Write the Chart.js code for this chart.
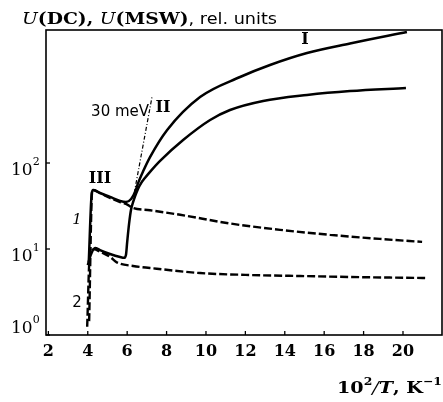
<!DOCTYPE html>
<html>
<head>
<meta charset="utf-8">
<script src="https://cdn.jsdelivr.net/npm/chart.js@4.4.1/dist/chart.umd.min.js"></script>
<style>
  html, body { margin: 0; padding: 0; background: #fff; }
</style>
</head>
<body>
<canvas id="chart" width="443" height="402"></canvas>
<script>
// axis ticks
const xTicks = [2, 4, 6, 8, 10, 12, 14, 16, 18, 20];
const yTicks = [1, 10, 100];
const yTickExp = ['0', '1', '2'];

// curve I (solid, upper branch)
const curveIx = [4.05, 4.2, 4.27, 4.62, 5.13, 5.64, 5.94, 6.2, 6.4, 6.55, 6.81, 7.16, 8.03, 9.7, 11.73, 13.25, 15.13, 17.31, 20.2];
const curveIy = [7, 44, 48.5, 44.8, 40.3, 36.2, 35.2, 38.1, 46, 58, 80, 117, 242, 585, 1000, 1380, 1901, 2453, 3336];

// curve II (solid, lower branch)
const curveIIx = [4.0, 4.15, 4.37, 4.62, 5.13, 5.64, 5.84, 5.94, 6.0, 6.1, 6.2, 6.3, 6.4, 6.55, 6.7, 6.9, 7.16, 7.67, 8.84, 10.21, 11.22, 12.9, 15.13, 17.31, 20.15];
const curveIIy = [6.5, 8.5, 10.3, 9.7, 8.75, 8.07, 7.9, 8.6, 12, 20, 29, 35, 41, 50, 58, 67, 79, 106, 185, 316, 413, 526, 618, 687, 745];

// curve 1 (dashed, upper)
const curve1x = [4.07, 4.22, 4.27, 4.62, 5.13, 5.64, 5.94, 6.3, 7.16, 8.69, 11.22, 13.76, 16.3, 18.83, 20.97];
const curve1y = [1.45, 46, 48.5, 44.8, 39.2, 35.2, 33.4, 30, 28.2, 25, 19.8, 16.7, 14.6, 13.1, 12.1];

// curve 2 (dashed, lower)
const curve2x = [3.97, 4.1, 4.32, 4.62, 5.13, 5.47, 6.3, 7.5, 9.7, 12, 14.78, 18, 21.22];
const curve2y = [1.25, 8.3, 9.9, 9.3, 8.1, 7.0, 6.35, 5.9, 5.25, 5.0, 4.85, 4.7, 4.6];

// 30 meV activation line
const slopeX = [6.36, 7.26];
const slopeY = [45, 585];

const serif = "'DejaVu Serif', 'Liberation Serif', serif";
const sans = "'DejaVu Sans', 'Liberation Sans', sans-serif";

function series(xs, ys, dash, width, smooth) {
    return {
        data: xs.map((v, i) => ({ x: v, y: ys[i] })),
        borderColor: '#000',
        borderWidth: width,
        borderDash: dash,
        pointRadius: 0,
        fill: false,
        cubicInterpolationMode: smooth ? 'monotone' : 'default',
        tension: 0
    };
}

// text labels placed in data coordinates
const notes = [
    { text: 'I', x: 15.03, y: 2690, font: 'bold 16px ' + serif, align: 'center' },
    { text: 'II', x: 7.82, y: 436, font: 'bold 16px ' + serif, align: 'center' },
    { text: '30 meV', x: 7.11, y: 392, font: '15px ' + sans, align: 'right' },
    { text: 'III', x: 4.62, y: 65, font: 'bold 16px ' + serif, align: 'center' },
    { text: '1', x: 3.46, y: 21.7, font: 'italic 15px ' + serif, align: 'center' },
    { text: '2', x: 3.46, y: 2.36, font: '15px ' + sans, align: 'center' }
];

// draws differently styled pieces on one baseline, optionally stretched to a width
function drawRuns(ctx, runs, x, base, align, width) {
    let total = 0;
    runs.forEach(r => { ctx.font = r.font; total += ctx.measureText(r.t).width; });
    const sx = width ? width / total : 1;
    const left = align === 'right' ? x - total * sx : x;
    ctx.save();
    ctx.translate(left, base);
    ctx.scale(sx, 1);
    ctx.textAlign = 'left';
    ctx.textBaseline = 'alphabetic';
    let cx = 0;
    runs.forEach(r => {
        ctx.font = r.font;
        ctx.fillText(r.t, cx, r.dy || 0);
        cx += ctx.measureText(r.t).width;
    });
    ctx.restore();
}

const decor = {
    id: 'decor',
    afterDraw(chart) {
        const { ctx, chartArea: a, scales: { x, y } } = chart;
        ctx.save();
        ctx.strokeStyle = '#000';
        ctx.fillStyle = '#000';
        ctx.lineWidth = 1.6;
        ctx.strokeRect(a.left, a.top, a.right - a.left, a.bottom - a.top);

        // inward tick marks
        ctx.lineWidth = 1.3;
        xTicks.forEach(v => {
            const px = x.getPixelForValue(v);
            ctx.beginPath(); ctx.moveTo(px, a.bottom); ctx.lineTo(px, a.bottom - 4); ctx.stroke();
        });
        yTicks.forEach(v => {
            const py = y.getPixelForValue(v);
            ctx.beginPath(); ctx.moveTo(a.left, py); ctx.lineTo(a.left + 4, py); ctx.stroke();
        });

        // y tick labels 10^n
        yTicks.forEach((v, i) => {
            const py = y.getPixelForValue(v);
            const base = Math.min(py + 12, a.bottom - 2);
            drawRuns(ctx, [
                { t: '10', font: '17px ' + serif },
                { t: yTickExp[i], font: '11px ' + serif, dy: -10 }
            ], 11, base, 'left');
        });

        // axis titles
        drawRuns(ctx, [
            { t: 'U', font: 'italic 17px ' + serif },
            { t: '(DC), ', font: 'bold 17px ' + serif },
            { t: 'U', font: 'italic 17px ' + serif },
            { t: '(MSW)', font: 'bold 17px ' + serif },
            { t: ', rel. units', font: '16px ' + sans }
        ], 22, 24, 'left', 255);

        drawRuns(ctx, [
            { t: '10', font: 'bold 17px ' + serif },
            { t: '2', font: 'bold 11px ' + serif, dy: -8 },
            { t: '/', font: 'italic 17px ' + serif },
            { t: 'T', font: 'italic bold 17px ' + serif },
            { t: ', K', font: 'bold 17px ' + serif },
            { t: '\u22121', font: 'bold 11px ' + serif, dy: -8 }
        ], 442, 393, 'right', 105);

        // curve labels
        notes.forEach(n => {
            ctx.font = n.font;
            ctx.textAlign = n.align;
            ctx.textBaseline = 'middle';
            ctx.fillText(n.text, x.getPixelForValue(n.x), y.getPixelForValue(n.y));
        });
        ctx.restore();
    }
};

const ctx = document.getElementById('chart').getContext('2d');
new Chart(ctx, {
    type: 'line',
    data: {
        datasets: [
            series(curve1x, curve1y, [8, 3], 2.4, true),
            series(curve2x, curve2y, [8, 3], 2.4, true),
            series(slopeX, slopeY, [4, 2, 1, 2], 1.2, false),
            series(curveIx, curveIy, [], 2.5, true),
            series(curveIIx, curveIIy, [], 2.5, true)
        ]
    },
    options: {
        responsive: false,
        animation: false,
        events: [],
        layout: { padding: { top: 30, right: 1, left: 0, bottom: 0 } },
        plugins: { legend: { display: false }, tooltip: { enabled: false } },
        scales: {
            x: {
                type: 'linear',
                min: 1.88,
                max: 21.98,
                afterBuildTicks: s => { s.ticks = xTicks.map(v => ({ value: v })); },
                afterFit: s => { s.height = 67; },
                grid: { display: false, drawTicks: false },
                border: { display: false },
                ticks: {
                    color: '#000',
                    padding: 7,
                    maxRotation: 0,
                    autoSkip: false,
                    font: { family: serif, size: 16, weight: 'bold' }
                }
            },
            y: {
                type: 'logarithmic',
                min: 1,
                max: 3520,
                afterBuildTicks: s => { s.ticks = yTicks.map(v => ({ value: v })); },
                afterFit: s => { s.width = 46; },
                grid: { display: false, drawTicks: false },
                border: { display: false },
                ticks: { display: false }
            }
        }
    },
    plugins: [decor]
});
</script>
</body>
</html>
